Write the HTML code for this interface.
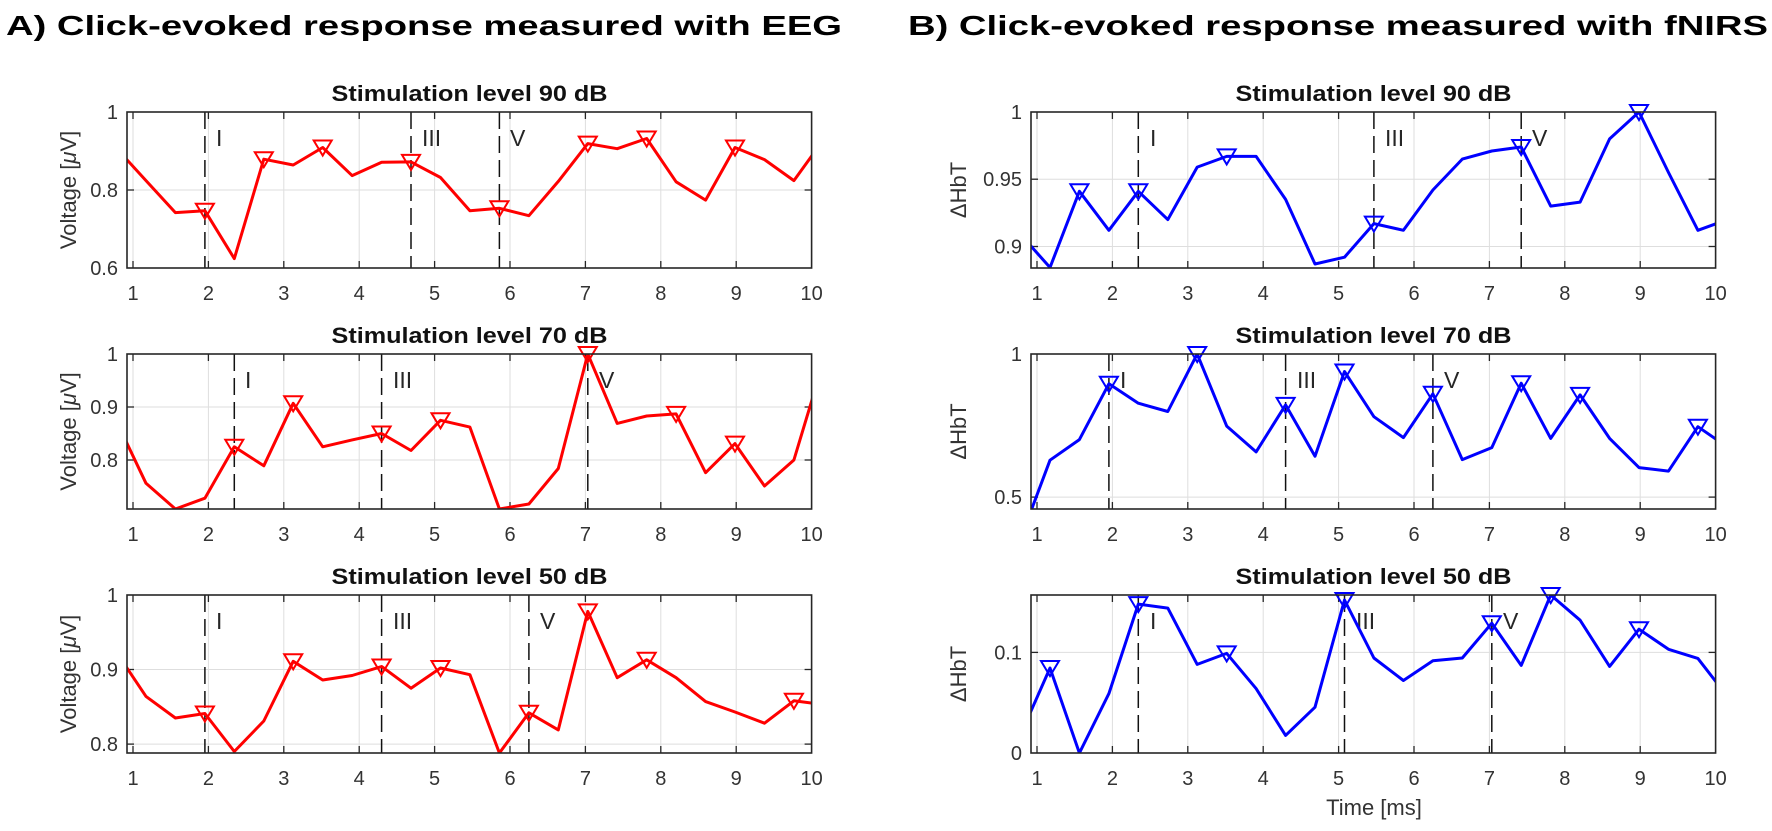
<!DOCTYPE html>
<html><head><meta charset="utf-8"><style>
html,body{margin:0;padding:0;background:#fff;}
svg{display:block;}
text{font-family:"Liberation Sans",Arial,sans-serif;}
.tk{font-size:20px;fill:#333;}
.lb{font-size:23px;fill:#262626;}
.st{font-size:22px;font-weight:bold;fill:#111;}
.mt{font-size:28px;font-weight:bold;fill:#000;}
.yl{font-size:22px;fill:#333;}
.grid line{stroke:#dedede;stroke-width:1;}
.tick line{stroke:#262626;stroke-width:1.3;}
.box{fill:none;stroke:#262626;stroke-width:1.6;}
.dash{stroke:#111;stroke-width:1.5;stroke-dasharray:17 7;}
.lr{fill:none;stroke:#ff0000;stroke-width:3;stroke-linejoin:round;}
.lbu{fill:none;stroke:#0000ff;stroke-width:3;stroke-linejoin:round;}
</style></head><body>
<svg width="1772" height="831" viewBox="0 0 1772 831" xmlns="http://www.w3.org/2000/svg">
<defs>
<path id="mk" d="M-9,-7 L9,-7 L0,8 Z" fill="none" stroke-width="2"/>
<clipPath id="cA1"><rect x="127" y="112" width="684.6" height="156"/></clipPath>
<clipPath id="cA2"><rect x="127" y="354" width="684.6" height="155"/></clipPath>
<clipPath id="cA3"><rect x="127" y="595" width="684.6" height="158"/></clipPath>
<clipPath id="cB1"><rect x="1031" y="112" width="684.6" height="156"/></clipPath>
<clipPath id="cB2"><rect x="1031" y="354" width="684.6" height="155"/></clipPath>
<clipPath id="cB3"><rect x="1031" y="595" width="684.6" height="158"/></clipPath>
</defs>

<!-- Main titles -->
<text class="mt" x="6" y="35" textLength="836" lengthAdjust="spacingAndGlyphs">A) Click-evoked response measured with EEG</text>
<text class="mt" x="908" y="35" textLength="860" lengthAdjust="spacingAndGlyphs">B) Click-evoked response measured with fNIRS</text>

<!-- ================= PANEL A ================= -->
<!-- A top -->
<g class="grid">
<line x1="133" y1="112" x2="133" y2="268"/><line x1="208.4" y1="112" x2="208.4" y2="268"/><line x1="283.8" y1="112" x2="283.8" y2="268"/><line x1="359.2" y1="112" x2="359.2" y2="268"/><line x1="434.6" y1="112" x2="434.6" y2="268"/><line x1="510" y1="112" x2="510" y2="268"/><line x1="585.4" y1="112" x2="585.4" y2="268"/><line x1="660.8" y1="112" x2="660.8" y2="268"/><line x1="736.2" y1="112" x2="736.2" y2="268"/>
<line x1="127" y1="190" x2="811.6" y2="190"/>
</g>
<g class="grid">
<line x1="133" y1="354" x2="133" y2="509"/><line x1="208.4" y1="354" x2="208.4" y2="509"/><line x1="283.8" y1="354" x2="283.8" y2="509"/><line x1="359.2" y1="354" x2="359.2" y2="509"/><line x1="434.6" y1="354" x2="434.6" y2="509"/><line x1="510" y1="354" x2="510" y2="509"/><line x1="585.4" y1="354" x2="585.4" y2="509"/><line x1="660.8" y1="354" x2="660.8" y2="509"/><line x1="736.2" y1="354" x2="736.2" y2="509"/>
<line x1="127" y1="407" x2="811.6" y2="407"/><line x1="127" y1="460" x2="811.6" y2="460"/>
</g>
<g class="grid">
<line x1="133" y1="595" x2="133" y2="753"/><line x1="208.4" y1="595" x2="208.4" y2="753"/><line x1="283.8" y1="595" x2="283.8" y2="753"/><line x1="359.2" y1="595" x2="359.2" y2="753"/><line x1="434.6" y1="595" x2="434.6" y2="753"/><line x1="510" y1="595" x2="510" y2="753"/><line x1="585.4" y1="595" x2="585.4" y2="753"/><line x1="660.8" y1="595" x2="660.8" y2="753"/><line x1="736.2" y1="595" x2="736.2" y2="753"/>
<line x1="127" y1="669.5" x2="811.6" y2="669.5"/><line x1="127" y1="744.1" x2="811.6" y2="744.1"/>
</g>

<!-- B grids -->
<g class="grid">
<line x1="1037" y1="112" x2="1037" y2="268"/><line x1="1112.4" y1="112" x2="1112.4" y2="268"/><line x1="1187.8" y1="112" x2="1187.8" y2="268"/><line x1="1263.2" y1="112" x2="1263.2" y2="268"/><line x1="1338.6" y1="112" x2="1338.6" y2="268"/><line x1="1414" y1="112" x2="1414" y2="268"/><line x1="1489.4" y1="112" x2="1489.4" y2="268"/><line x1="1564.8" y1="112" x2="1564.8" y2="268"/><line x1="1640.2" y1="112" x2="1640.2" y2="268"/>
<line x1="1031" y1="179.2" x2="1715.6" y2="179.2"/><line x1="1031" y1="246.5" x2="1715.6" y2="246.5"/>
</g>
<g class="grid">
<line x1="1037" y1="354" x2="1037" y2="509"/><line x1="1112.4" y1="354" x2="1112.4" y2="509"/><line x1="1187.8" y1="354" x2="1187.8" y2="509"/><line x1="1263.2" y1="354" x2="1263.2" y2="509"/><line x1="1338.6" y1="354" x2="1338.6" y2="509"/><line x1="1414" y1="354" x2="1414" y2="509"/><line x1="1489.4" y1="354" x2="1489.4" y2="509"/><line x1="1564.8" y1="354" x2="1564.8" y2="509"/><line x1="1640.2" y1="354" x2="1640.2" y2="509"/>
<line x1="1031" y1="497.1" x2="1715.6" y2="497.1"/>
</g>
<g class="grid">
<line x1="1037" y1="595" x2="1037" y2="753"/><line x1="1112.4" y1="595" x2="1112.4" y2="753"/><line x1="1187.8" y1="595" x2="1187.8" y2="753"/><line x1="1263.2" y1="595" x2="1263.2" y2="753"/><line x1="1338.6" y1="595" x2="1338.6" y2="753"/><line x1="1414" y1="595" x2="1414" y2="753"/><line x1="1489.4" y1="595" x2="1489.4" y2="753"/><line x1="1564.8" y1="595" x2="1564.8" y2="753"/><line x1="1640.2" y1="595" x2="1640.2" y2="753"/>
<line x1="1031" y1="652.4" x2="1715.6" y2="652.4"/>
</g>

<!-- Ticks (x: bottom & top, y: left & right) -->
<g class="tick">
<!-- A top -->
<line x1="133" y1="268" x2="133" y2="261"/><line x1="208.4" y1="268" x2="208.4" y2="261"/><line x1="283.8" y1="268" x2="283.8" y2="261"/><line x1="359.2" y1="268" x2="359.2" y2="261"/><line x1="434.6" y1="268" x2="434.6" y2="261"/><line x1="510" y1="268" x2="510" y2="261"/><line x1="585.4" y1="268" x2="585.4" y2="261"/><line x1="660.8" y1="268" x2="660.8" y2="261"/><line x1="736.2" y1="268" x2="736.2" y2="261"/>
<line x1="133" y1="112" x2="133" y2="119"/><line x1="208.4" y1="112" x2="208.4" y2="119"/><line x1="283.8" y1="112" x2="283.8" y2="119"/><line x1="359.2" y1="112" x2="359.2" y2="119"/><line x1="434.6" y1="112" x2="434.6" y2="119"/><line x1="510" y1="112" x2="510" y2="119"/><line x1="585.4" y1="112" x2="585.4" y2="119"/><line x1="660.8" y1="112" x2="660.8" y2="119"/><line x1="736.2" y1="112" x2="736.2" y2="119"/>
<line x1="127" y1="190" x2="134" y2="190"/><line x1="811.6" y1="190" x2="804.6" y2="190"/>
<!-- A mid -->
<line x1="133" y1="509" x2="133" y2="502"/><line x1="208.4" y1="509" x2="208.4" y2="502"/><line x1="283.8" y1="509" x2="283.8" y2="502"/><line x1="359.2" y1="509" x2="359.2" y2="502"/><line x1="434.6" y1="509" x2="434.6" y2="502"/><line x1="510" y1="509" x2="510" y2="502"/><line x1="585.4" y1="509" x2="585.4" y2="502"/><line x1="660.8" y1="509" x2="660.8" y2="502"/><line x1="736.2" y1="509" x2="736.2" y2="502"/>
<line x1="133" y1="354" x2="133" y2="361"/><line x1="208.4" y1="354" x2="208.4" y2="361"/><line x1="283.8" y1="354" x2="283.8" y2="361"/><line x1="359.2" y1="354" x2="359.2" y2="361"/><line x1="434.6" y1="354" x2="434.6" y2="361"/><line x1="510" y1="354" x2="510" y2="361"/><line x1="585.4" y1="354" x2="585.4" y2="361"/><line x1="660.8" y1="354" x2="660.8" y2="361"/><line x1="736.2" y1="354" x2="736.2" y2="361"/>
<line x1="127" y1="407" x2="134" y2="407"/><line x1="811.6" y1="407" x2="804.6" y2="407"/><line x1="127" y1="460" x2="134" y2="460"/><line x1="811.6" y1="460" x2="804.6" y2="460"/>
<!-- A bot -->
<line x1="133" y1="753" x2="133" y2="746"/><line x1="208.4" y1="753" x2="208.4" y2="746"/><line x1="283.8" y1="753" x2="283.8" y2="746"/><line x1="359.2" y1="753" x2="359.2" y2="746"/><line x1="434.6" y1="753" x2="434.6" y2="746"/><line x1="510" y1="753" x2="510" y2="746"/><line x1="585.4" y1="753" x2="585.4" y2="746"/><line x1="660.8" y1="753" x2="660.8" y2="746"/><line x1="736.2" y1="753" x2="736.2" y2="746"/>
<line x1="133" y1="595" x2="133" y2="602"/><line x1="208.4" y1="595" x2="208.4" y2="602"/><line x1="283.8" y1="595" x2="283.8" y2="602"/><line x1="359.2" y1="595" x2="359.2" y2="602"/><line x1="434.6" y1="595" x2="434.6" y2="602"/><line x1="510" y1="595" x2="510" y2="602"/><line x1="585.4" y1="595" x2="585.4" y2="602"/><line x1="660.8" y1="595" x2="660.8" y2="602"/><line x1="736.2" y1="595" x2="736.2" y2="602"/>
<line x1="127" y1="669.5" x2="134" y2="669.5"/><line x1="811.6" y1="669.5" x2="804.6" y2="669.5"/><line x1="127" y1="744.1" x2="134" y2="744.1"/><line x1="811.6" y1="744.1" x2="804.6" y2="744.1"/>
<!-- B top -->
<line x1="1037" y1="268" x2="1037" y2="261"/><line x1="1112.4" y1="268" x2="1112.4" y2="261"/><line x1="1187.8" y1="268" x2="1187.8" y2="261"/><line x1="1263.2" y1="268" x2="1263.2" y2="261"/><line x1="1338.6" y1="268" x2="1338.6" y2="261"/><line x1="1414" y1="268" x2="1414" y2="261"/><line x1="1489.4" y1="268" x2="1489.4" y2="261"/><line x1="1564.8" y1="268" x2="1564.8" y2="261"/><line x1="1640.2" y1="268" x2="1640.2" y2="261"/>
<line x1="1037" y1="112" x2="1037" y2="119"/><line x1="1112.4" y1="112" x2="1112.4" y2="119"/><line x1="1187.8" y1="112" x2="1187.8" y2="119"/><line x1="1263.2" y1="112" x2="1263.2" y2="119"/><line x1="1338.6" y1="112" x2="1338.6" y2="119"/><line x1="1414" y1="112" x2="1414" y2="119"/><line x1="1489.4" y1="112" x2="1489.4" y2="119"/><line x1="1564.8" y1="112" x2="1564.8" y2="119"/><line x1="1640.2" y1="112" x2="1640.2" y2="119"/>
<line x1="1031" y1="179.2" x2="1038" y2="179.2"/><line x1="1715.6" y1="179.2" x2="1708.6" y2="179.2"/><line x1="1031" y1="246.5" x2="1038" y2="246.5"/><line x1="1715.6" y1="246.5" x2="1708.6" y2="246.5"/>
<!-- B mid -->
<line x1="1037" y1="509" x2="1037" y2="502"/><line x1="1112.4" y1="509" x2="1112.4" y2="502"/><line x1="1187.8" y1="509" x2="1187.8" y2="502"/><line x1="1263.2" y1="509" x2="1263.2" y2="502"/><line x1="1338.6" y1="509" x2="1338.6" y2="502"/><line x1="1414" y1="509" x2="1414" y2="502"/><line x1="1489.4" y1="509" x2="1489.4" y2="502"/><line x1="1564.8" y1="509" x2="1564.8" y2="502"/><line x1="1640.2" y1="509" x2="1640.2" y2="502"/>
<line x1="1037" y1="354" x2="1037" y2="361"/><line x1="1112.4" y1="354" x2="1112.4" y2="361"/><line x1="1187.8" y1="354" x2="1187.8" y2="361"/><line x1="1263.2" y1="354" x2="1263.2" y2="361"/><line x1="1338.6" y1="354" x2="1338.6" y2="361"/><line x1="1414" y1="354" x2="1414" y2="361"/><line x1="1489.4" y1="354" x2="1489.4" y2="361"/><line x1="1564.8" y1="354" x2="1564.8" y2="361"/><line x1="1640.2" y1="354" x2="1640.2" y2="361"/>
<line x1="1031" y1="497.1" x2="1038" y2="497.1"/><line x1="1715.6" y1="497.1" x2="1708.6" y2="497.1"/>
<!-- B bot -->
<line x1="1037" y1="753" x2="1037" y2="746"/><line x1="1112.4" y1="753" x2="1112.4" y2="746"/><line x1="1187.8" y1="753" x2="1187.8" y2="746"/><line x1="1263.2" y1="753" x2="1263.2" y2="746"/><line x1="1338.6" y1="753" x2="1338.6" y2="746"/><line x1="1414" y1="753" x2="1414" y2="746"/><line x1="1489.4" y1="753" x2="1489.4" y2="746"/><line x1="1564.8" y1="753" x2="1564.8" y2="746"/><line x1="1640.2" y1="753" x2="1640.2" y2="746"/>
<line x1="1037" y1="595" x2="1037" y2="602"/><line x1="1112.4" y1="595" x2="1112.4" y2="602"/><line x1="1187.8" y1="595" x2="1187.8" y2="602"/><line x1="1263.2" y1="595" x2="1263.2" y2="602"/><line x1="1338.6" y1="595" x2="1338.6" y2="602"/><line x1="1414" y1="595" x2="1414" y2="602"/><line x1="1489.4" y1="595" x2="1489.4" y2="602"/><line x1="1564.8" y1="595" x2="1564.8" y2="602"/><line x1="1640.2" y1="595" x2="1640.2" y2="602"/>
<line x1="1031" y1="652.4" x2="1038" y2="652.4"/><line x1="1715.6" y1="652.4" x2="1708.6" y2="652.4"/>
</g>

<!-- Dashed wave markers -->
<g class="dash">
<line x1="204.9" y1="112" x2="204.9" y2="268"/><line x1="411.0" y1="112" x2="411.0" y2="268"/><line x1="499.4" y1="112" x2="499.4" y2="268"/>
<line x1="234.3" y1="354" x2="234.3" y2="509"/><line x1="381.6" y1="354" x2="381.6" y2="509"/><line x1="587.8" y1="354" x2="587.8" y2="509"/>
<line x1="204.9" y1="595" x2="204.9" y2="753"/><line x1="381.6" y1="595" x2="381.6" y2="753"/><line x1="528.9" y1="595" x2="528.9" y2="753"/>
<line x1="1138.3" y1="112" x2="1138.3" y2="268"/><line x1="1373.9" y1="112" x2="1373.9" y2="268"/><line x1="1521.2" y1="112" x2="1521.2" y2="268"/>
<line x1="1108.9" y1="354" x2="1108.9" y2="509"/><line x1="1285.6" y1="354" x2="1285.6" y2="509"/><line x1="1432.9" y1="354" x2="1432.9" y2="509"/>
<line x1="1138.3" y1="595" x2="1138.3" y2="753"/><line x1="1344.5" y1="595" x2="1344.5" y2="753"/><line x1="1491.8" y1="595" x2="1491.8" y2="753"/>
</g>
<g class="lb">
<text x="216" y="146">I</text><text x="422" y="146">III</text><text x="510" y="146">V</text>
<text x="245" y="388">I</text><text x="393" y="388">III</text><text x="599" y="388">V</text>
<text x="216" y="629">I</text><text x="393" y="629">III</text><text x="540" y="629">V</text>
<text x="1150" y="146">I</text><text x="1385" y="146">III</text><text x="1532" y="146">V</text>
<text x="1120" y="388">I</text><text x="1297" y="388">III</text><text x="1444" y="388">V</text>
<text x="1150" y="629">I</text><text x="1356" y="629">III</text><text x="1503" y="629">V</text>
</g>

<!-- Data lines -->
<polyline class="lr" clip-path="url(#cA1)" points="116.5,148.3 146.0,180.6 175.4,212.6 204.9,210.7 234.3,258.6 263.8,159.2 293.2,165.0 322.7,147.5 352.1,175.6 381.6,162.3 411.0,161.9 440.5,177.5 469.9,210.7 499.4,208.3 528.9,215.7 558.3,181.4 587.8,143.6 617.2,148.7 646.7,138.5 676.1,181.8 705.6,200.1 735.0,147.5 764.5,159.6 793.9,180.6 823.4,139.7"/>
<polyline class="lr" clip-path="url(#cA2)" points="116.5,421.3 146.0,483.3 175.4,509.0 204.9,498.2 234.3,446.8 263.8,465.8 293.2,403.3 322.7,446.8 352.1,439.9 381.6,433.5 411.0,450.5 440.5,420.3 469.9,427.1 499.4,509.0 528.9,504.0 558.3,468.5 587.8,354.0 617.2,423.4 646.7,416.0 676.1,413.9 705.6,472.7 735.0,443.6 764.5,486.0 793.9,460.0 823.4,362.0"/>
<polyline class="lr" clip-path="url(#cA3)" points="116.5,652.4 146.0,696.4 175.4,718.0 204.9,713.5 234.3,751.5 263.8,721.0 293.2,661.3 322.7,680.0 352.1,675.5 381.6,666.5 411.0,688.2 440.5,668.0 469.9,674.7 499.4,753.0 528.9,712.8 558.3,729.9 587.8,611.4 617.2,677.7 646.7,659.8 676.1,677.7 705.6,701.6 735.0,712.0 764.5,723.2 793.9,700.8 823.4,704.6"/>
<polyline class="lbu" clip-path="url(#cB1)" points="1020.5,234.4 1050.0,267.5 1079.4,191.3 1108.9,230.3 1138.3,191.3 1167.8,219.6 1197.2,167.1 1226.7,156.4 1256.1,156.4 1285.6,199.4 1315.0,264.0 1344.5,257.2 1373.9,223.6 1403.4,230.3 1432.9,190.0 1462.3,159.1 1491.8,151.0 1521.2,147.0 1550.7,206.1 1580.1,202.1 1609.6,138.9 1639.0,112.0 1668.5,172.5 1697.9,230.3 1727.4,219.6"/>
<polyline class="lbu" clip-path="url(#cB2)" points="1020.5,538.9 1050.0,460.2 1079.4,439.6 1108.9,383.8 1138.3,403.2 1167.8,411.5 1197.2,354.0 1226.7,426.1 1256.1,451.9 1285.6,404.9 1315.0,456.2 1344.5,371.5 1373.9,416.7 1403.4,437.6 1432.9,393.8 1462.3,459.6 1491.8,447.6 1521.2,383.2 1550.7,438.4 1580.1,394.9 1609.6,438.4 1639.0,467.6 1668.5,471.1 1697.9,426.7 1727.4,447.0"/>
<polyline class="lbu" clip-path="url(#cB3)" points="1020.5,734.9 1050.0,668.0 1079.4,753.0 1108.9,693.6 1138.3,604.1 1167.8,608.1 1197.2,664.4 1226.7,653.4 1256.1,688.6 1285.6,735.4 1315.0,707.2 1344.5,600.0 1373.9,658.0 1403.4,680.5 1432.9,660.7 1462.3,658.0 1491.8,623.2 1521.2,665.4 1550.7,595.0 1580.1,620.2 1609.6,666.4 1639.0,629.2 1668.5,649.3 1697.9,658.4 1727.4,696.6"/>

<!-- Markers -->
<g stroke="#ff0000">
<use href="#mk" x="204.9" y="210.7"/><use href="#mk" x="263.8" y="159.2"/><use href="#mk" x="322.7" y="147.5"/><use href="#mk" x="411.0" y="161.9"/><use href="#mk" x="499.4" y="208.3"/><use href="#mk" x="587.8" y="143.6"/><use href="#mk" x="646.7" y="138.5"/><use href="#mk" x="735.0" y="147.5"/>
<use href="#mk" x="234.3" y="446.8"/><use href="#mk" x="293.2" y="403.3"/><use href="#mk" x="381.6" y="433.5"/><use href="#mk" x="440.5" y="420.3"/><use href="#mk" x="587.8" y="354.0"/><use href="#mk" x="676.1" y="413.9"/><use href="#mk" x="735.0" y="443.6"/>
<use href="#mk" x="204.9" y="713.5"/><use href="#mk" x="293.2" y="661.3"/><use href="#mk" x="381.6" y="666.5"/><use href="#mk" x="440.5" y="668.0"/><use href="#mk" x="528.9" y="712.8"/><use href="#mk" x="587.8" y="611.4"/><use href="#mk" x="646.7" y="659.8"/><use href="#mk" x="793.9" y="700.8"/>
</g>
<g stroke="#0000ff">
<use href="#mk" x="1079.4" y="191.3"/><use href="#mk" x="1138.3" y="191.3"/><use href="#mk" x="1226.7" y="156.4"/><use href="#mk" x="1373.9" y="223.6"/><use href="#mk" x="1521.2" y="147.0"/><use href="#mk" x="1639.0" y="112.0"/>
<use href="#mk" x="1108.9" y="383.8"/><use href="#mk" x="1197.2" y="354.0"/><use href="#mk" x="1285.6" y="404.9"/><use href="#mk" x="1344.5" y="371.5"/><use href="#mk" x="1432.9" y="393.8"/><use href="#mk" x="1521.2" y="383.2"/><use href="#mk" x="1580.1" y="394.9"/><use href="#mk" x="1697.9" y="426.7"/>
<use href="#mk" x="1050.0" y="668.0"/><use href="#mk" x="1138.3" y="604.1"/><use href="#mk" x="1226.7" y="653.4"/><use href="#mk" x="1344.5" y="600.0"/><use href="#mk" x="1491.8" y="623.2"/><use href="#mk" x="1550.7" y="595.0"/><use href="#mk" x="1639.0" y="629.2"/>
</g>

<!-- Axes boxes -->
<rect class="box" x="127" y="112" width="684.6" height="156"/>
<rect class="box" x="127" y="354" width="684.6" height="155"/>
<rect class="box" x="127" y="595" width="684.6" height="158"/>
<rect class="box" x="1031" y="112" width="684.6" height="156"/>
<rect class="box" x="1031" y="354" width="684.6" height="155"/>
<rect class="box" x="1031" y="595" width="684.6" height="158"/>

<!-- Subplot titles -->
<g class="st" text-anchor="middle">
<text x="469.5" y="101" textLength="276" lengthAdjust="spacingAndGlyphs">Stimulation level 90 dB</text>
<text x="469.5" y="343" textLength="276" lengthAdjust="spacingAndGlyphs">Stimulation level 70 dB</text>
<text x="469.5" y="584" textLength="276" lengthAdjust="spacingAndGlyphs">Stimulation level 50 dB</text>
<text x="1373.5" y="101" textLength="276" lengthAdjust="spacingAndGlyphs">Stimulation level 90 dB</text>
<text x="1373.5" y="343" textLength="276" lengthAdjust="spacingAndGlyphs">Stimulation level 70 dB</text>
<text x="1373.5" y="584" textLength="276" lengthAdjust="spacingAndGlyphs">Stimulation level 50 dB</text>
</g>

<!-- X tick labels -->
<g class="tk" text-anchor="middle">
<text x="133" y="300">1</text><text x="208.4" y="300">2</text><text x="283.8" y="300">3</text><text x="359.2" y="300">4</text><text x="434.6" y="300">5</text><text x="510" y="300">6</text><text x="585.4" y="300">7</text><text x="660.8" y="300">8</text><text x="736.2" y="300">9</text><text x="811.6" y="300">10</text>
<text x="133" y="541">1</text><text x="208.4" y="541">2</text><text x="283.8" y="541">3</text><text x="359.2" y="541">4</text><text x="434.6" y="541">5</text><text x="510" y="541">6</text><text x="585.4" y="541">7</text><text x="660.8" y="541">8</text><text x="736.2" y="541">9</text><text x="811.6" y="541">10</text>
<text x="133" y="785">1</text><text x="208.4" y="785">2</text><text x="283.8" y="785">3</text><text x="359.2" y="785">4</text><text x="434.6" y="785">5</text><text x="510" y="785">6</text><text x="585.4" y="785">7</text><text x="660.8" y="785">8</text><text x="736.2" y="785">9</text><text x="811.6" y="785">10</text>
<text x="1037" y="300">1</text><text x="1112.4" y="300">2</text><text x="1187.8" y="300">3</text><text x="1263.2" y="300">4</text><text x="1338.6" y="300">5</text><text x="1414" y="300">6</text><text x="1489.4" y="300">7</text><text x="1564.8" y="300">8</text><text x="1640.2" y="300">9</text><text x="1715.6" y="300">10</text>
<text x="1037" y="541">1</text><text x="1112.4" y="541">2</text><text x="1187.8" y="541">3</text><text x="1263.2" y="541">4</text><text x="1338.6" y="541">5</text><text x="1414" y="541">6</text><text x="1489.4" y="541">7</text><text x="1564.8" y="541">8</text><text x="1640.2" y="541">9</text><text x="1715.6" y="541">10</text>
<text x="1037" y="785">1</text><text x="1112.4" y="785">2</text><text x="1187.8" y="785">3</text><text x="1263.2" y="785">4</text><text x="1338.6" y="785">5</text><text x="1414" y="785">6</text><text x="1489.4" y="785">7</text><text x="1564.8" y="785">8</text><text x="1640.2" y="785">9</text><text x="1715.6" y="785">10</text>
</g>

<!-- Y tick labels -->
<g class="tk" text-anchor="end">
<text x="118" y="119">1</text><text x="118" y="197">0.8</text><text x="118" y="275">0.6</text>
<text x="118" y="361">1</text><text x="118" y="414">0.9</text><text x="118" y="467">0.8</text>
<text x="118" y="602">1</text><text x="118" y="676.5">0.9</text><text x="118" y="751">0.8</text>
<text x="1022" y="119">1</text><text x="1022" y="186.2">0.95</text><text x="1022" y="253.5">0.9</text>
<text x="1022" y="361">1</text><text x="1022" y="504.1">0.5</text>
<text x="1022" y="659.4">0.1</text><text x="1022" y="760">0</text>
</g>

<!-- Axis labels -->
<g class="yl" text-anchor="middle">
<text transform="translate(76,190) rotate(-90)">Voltage [<tspan font-style="italic">μ</tspan>V]</text>
<text transform="translate(76,431.5) rotate(-90)">Voltage [<tspan font-style="italic">μ</tspan>V]</text>
<text transform="translate(76,674) rotate(-90)">Voltage [<tspan font-style="italic">μ</tspan>V]</text>
<text transform="translate(966,190) rotate(-90)">ΔHbT</text>
<text transform="translate(966,431.5) rotate(-90)">ΔHbT</text>
<text transform="translate(966,674) rotate(-90)">ΔHbT</text>
<text x="1374" y="815">Time [ms]</text>
</g>
</svg>
</body></html>
